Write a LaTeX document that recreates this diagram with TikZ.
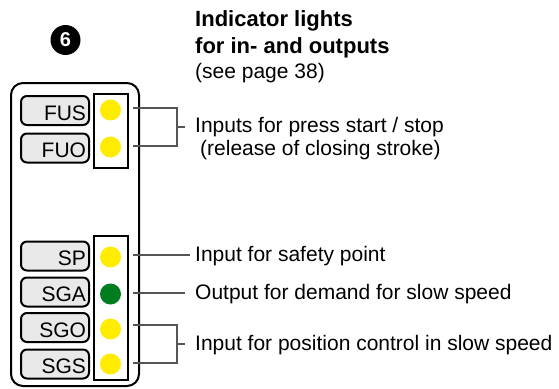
\documentclass[tikz,border=0pt]{standalone}
\usepackage{fontspec}
\setmainfont{Liberation Sans}
\definecolor{lampyellow}{RGB}{255,236,0}
\definecolor{lampgreen}{RGB}{0,125,30}
\definecolor{conngray}{RGB}{85,85,85}
\begin{document}
\begin{tikzpicture}[x=1pt,y=-1pt,
  frame/.style={draw=black,line width=2pt},
  lbl/.style={draw=black,line width=2pt,rounded corners=6pt,fill=gray!17,minimum width=68pt,minimum height=29pt,text width=62pt,text height=19pt,text depth=0pt,align=right,inner sep=0pt,font=\fontsize{21}{21}\selectfont},
  lamp/.style={circle,minimum size=21pt,inner sep=0pt},
  conn/.style={draw=conngray,line width=1.6pt},
  txt/.style={anchor=base west,inner sep=0pt,font=\fontsize{21}{23}\selectfont},
  ttl/.style={anchor=base west,inner sep=0pt,font=\bfseries\fontsize{22}{25}\selectfont}]
\useasboundingbox (0,0) rectangle (559,388);
% number badge
\node[circle,fill=black,minimum size=30pt,inner sep=0pt,text=white,font=\bfseries\fontsize{20}{20}\selectfont] (six) at (65.5,40) {6};
% device frame
\draw[frame,rounded corners=12pt] (11,83) rectangle (139,386);
% lamp boxes
\draw[frame] (94,94) rectangle (128,168);
\draw[frame] (94,236) rectangle (128,380);
% labels
\node[lbl] (fus) at (55,110.5) {FUS};
\node[lbl] (fuo) at (55,148) {FUO};
\node[lbl] (sp)  at (55,256) {SP};
\node[lbl] (sga) at (55,292) {SGA};
\node[lbl] (sgo) at (55,327.5) {SGO};
\node[lbl] (sgs) at (55,364) {SGS};
% lamps
\node[lamp,fill=lampyellow] (l1) at (110.5,110) {};
\node[lamp,fill=lampyellow] (l2) at (110.5,147) {};
\node[lamp,fill=lampyellow] (l3) at (110.5,257) {};
\node[lamp,fill=lampgreen]  (l4) at (110.5,294) {};
\node[lamp,fill=lampyellow] (l5) at (110.5,329) {};
\node[lamp,fill=lampyellow] (l6) at (110.5,364) {};
% title
\node[ttl] (t1) at (195,27) {Indicator lights};
\node[ttl] (t2) at (195,53) {for in- and outputs};
\node[txt] (t3) at (195,78) {(see page 38)};
% descriptions
\node[txt] (d1) at (195,132) {Inputs for press start / stop};
\node[txt] (d1b) at (200,155) {(release of closing stroke)};
\node[txt] (d2) at (195,261) {Input for safety point};
\node[txt] (d3) at (195,299) {Output for demand for slow speed};
\node[txt] (d4) at (195,350) {Input for position control in slow speed};
% connector coordinates
\coordinate (a1) at (133,108);
\coordinate (a2) at (133,146);
\coordinate (k1) at (177,108);
\coordinate (k2) at (177,146);
\coordinate (m1) at (177,127);
\coordinate (e1) at (185,127);
\coordinate (a3) at (133,255);
\coordinate (e3) at (190,255);
\coordinate (a4) at (133,293);
\coordinate (e4) at (185,293);
\coordinate (a5) at (133,325);
\coordinate (a6) at (133,363);
\coordinate (k5) at (177,325);
\coordinate (k6) at (177,363);
\coordinate (m5) at (177,344);
\coordinate (e5) at (185,344);
% connectors
\draw[conn] (a1) -- (k1) -- (k2) -- (a2);
\draw[conn] (m1) -- (e1);
\draw[conn] (a3) -- (e3);
\draw[conn] (a4) -- (e4);
\draw[conn] (a5) -- (k5) -- (k6) -- (a6);
\draw[conn] (m5) -- (e5);
\end{tikzpicture}
\end{document}
